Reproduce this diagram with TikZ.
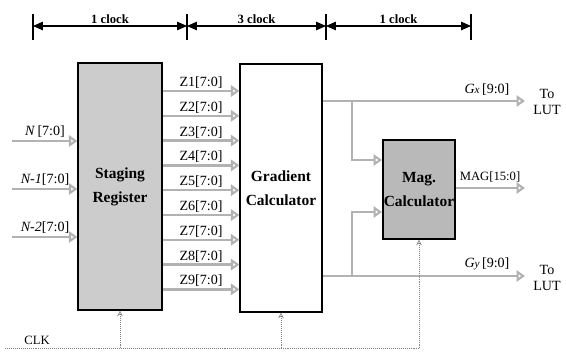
\documentclass[tikz,border=0pt]{standalone}
\usepackage{fontspec}
\setmainfont{Liberation Serif}
\usetikzlibrary{arrows.meta,positioning,calc}

\begin{document}
\begin{tikzpicture}[
    x=0.025cm, y=-0.025cm,
    font=\fontsize{10}{12}\selectfont,
    regbox/.style={rectangle, draw, thick, fill=gray!40, minimum width=2.1cm, minimum height=6.175cm, inner sep=0pt, align=center, font=\fontsize{11}{17}\selectfont\bfseries},
    calcbox/.style={rectangle, draw, thick, fill=white, minimum width=2.05cm, minimum height=6.2cm, inner sep=0pt, align=center, font=\fontsize{11}{17}\selectfont\bfseries},
    magbox/.style={rectangle, draw, thick, fill=gray!55, minimum width=1.8cm, minimum height=2.475cm, inner sep=0pt, align=center, font=\fontsize{11}{17}\selectfont\bfseries},
    bus/.style={draw=gray!60, line width=1.6pt, -{Triangle[open, length=6pt, width=8pt]}},
    clkline/.style={densely dotted, gray, thin},
    clkarrow/.style={densely dotted, gray, thin, -{Stealth[open, length=4pt, width=4pt]}},
    span/.style={thick, {Triangle[length=7pt, width=6pt]}-{Triangle[length=7pt, width=6pt]}},
    lbl/.style={inner sep=1pt}
]
\useasboundingbox (0,0) rectangle (566,354);

% Timing bar
\foreach \t/\x in {t0/33, t1/187, t2/326, t3/471} {
    \coordinate (\t) at (\x,26);
    \draw[thick] (\x,14) -- (\x,40);
}
\draw[span] (t0) -- node[above, lbl, font=\small\bfseries, name=c1] {1 clock} (t1);
\draw[span] (t1) -- node[above, lbl, font=\small\bfseries, name=c2] {3 clock} (t2);
\draw[span] (t2) -- node[above, lbl, font=\small\bfseries, name=c3] {1 clock} (t3);

% Blocks
\node[regbox] (stage) at (120,186.5) {Staging\\Register};
\node[calcbox] (grad) at (281,188) {Gradient\\Calculator};
\node[magbox] (mag) at (419,189.5) {Mag.\\Calculator};

% Pixel inputs
\foreach \n/\txt/\yy in {n0/{\textit{N}\,[7:0]}/141, n1/{\textit{N-1}[7:0]}/189, n2/{\textit{N-2}[7:0]}/237} {
    \coordinate (\n) at (12,\yy);
    \node[lbl, anchor=south] (\n l) at (45,\yy-2) {\txt};
    \draw[bus] (\n) -- (stage.west |- \n);
}

% Window outputs
\foreach \i in {1,...,9} {
    \pgfmathsetmacro{\zy}{91+(\i-1)*24.8}
    \coordinate (z\i) at (200,\zy);
    \draw[bus] (stage.east |- z\i) -- node[above, lbl, name=zl\i] {Z\i[7:0]} (grad.west |- z\i);
}

% Gradient outputs
\coordinate (gxend) at (525,101);
\coordinate (gyend) at (525,276);
\coordinate (bx) at (352,101);
\coordinate (by) at (352,276);
\coordinate (mx) at (382,160);
\coordinate (my) at (382,212);
\draw[bus] (grad.east |- gxend) -- (gxend);
\draw[bus] (grad.east |- gyend) -- (gyend);
\draw[bus] (bx) |- (mx);
\draw[bus] (by) |- (my);
\node[lbl, anchor=south] (gxl) at (487,97) {\textit{G\footnotesize x}\,[9:0]};
\node[lbl, anchor=south] (gyl) at (487,272) {\textit{G\footnotesize y}\,[9:0]};
\node[align=center, inner sep=0pt] (lut1) at (547,102) {To\\LUT};
\node[align=center, inner sep=0pt] (lut2) at (547,278) {To\\LUT};

% Magnitude output
\coordinate (magend) at (525,188);
\draw[bus] (mag.east |- magend) -- (magend);
\node[lbl, anchor=south, font=\small] (magl) at (490,184) {MAG[15:0]};

% Clock
\coordinate (clkl) at (5,348);
\coordinate (clkr) at (419,348);
\node[lbl, anchor=south, font=\small] (clk) at (37,346) {CLK};
\draw[clkline] (clkl) -- (clkr);
\draw[clkarrow] (stage.south |- clkl) -- (stage.south);
\draw[clkarrow] (grad.south |- clkl) -- (grad.south);
\draw[clkarrow] (mag.south |- clkl) -- (mag.south);
\end{tikzpicture}
\end{document}
